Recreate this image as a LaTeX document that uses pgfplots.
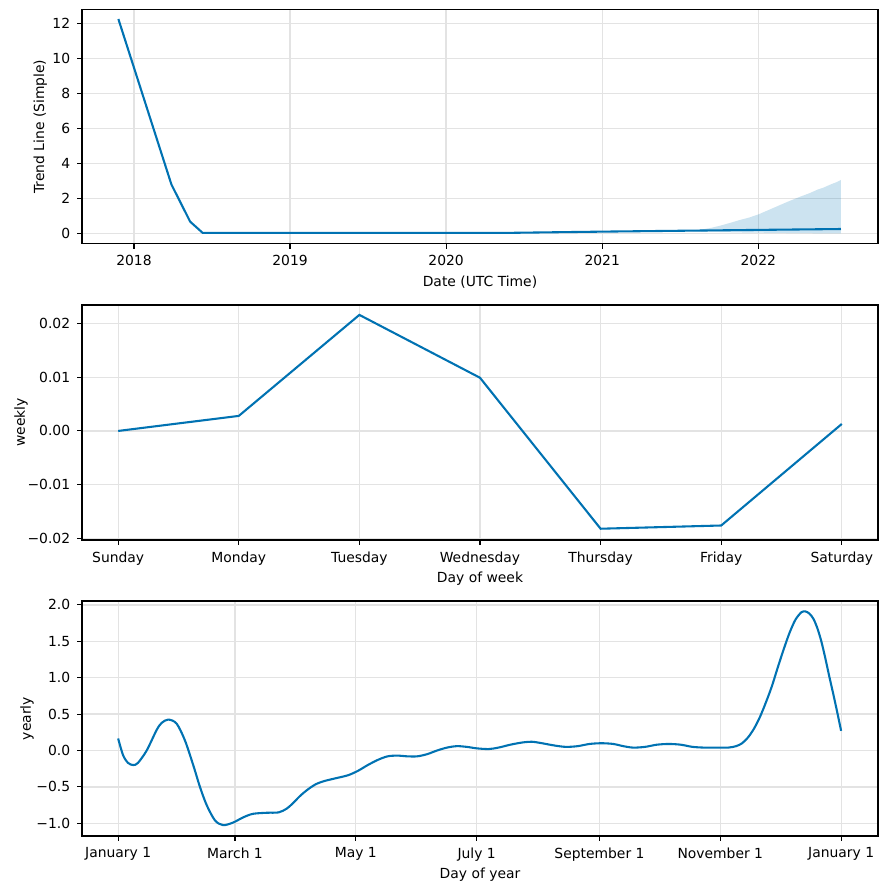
\documentclass[border=0pt]{standalone}
\usepackage{fontspec}
\setmainfont{DejaVu Sans}
\usepackage{pgfplots}
\pgfplotsset{compat=1.18}
\definecolor{pblue}{HTML}{0072B2}
\definecolor{gridc}{HTML}{E3E3E3}
\pgfplotsset{
  prophet/.style={
    scale only axis,
    width=573.1pt,
    tick align=outside,
    tick pos=left,
    major tick length=3.5pt,
    axis line style={line width=0.8pt,black},
    every tick/.style={line width=0.8pt,black},
    grid=major,
    major grid style={line width=0.9pt,gridc},
    scaled ticks=false,
    /pgf/number format/assume math mode=true,
    tick label style={font=\fontsize{10}{12}\selectfont},
    label style={font=\fontsize{10}{12}\selectfont},
    xticklabel style={yshift=-1.5pt},
    yticklabel style={xshift=-1.5pt},
    ylabel shift=-5pt,
    anchor=north west,
  }
}
\begin{document}
\begin{tikzpicture}[x=1pt,y=1pt]
\path[use as bounding box] (0,0) rectangle (637.92pt,-640.08pt);
% Panel 1: trend
\begin{axis}[prophet,
  at={(59.04pt,-6.98pt)},
  height=168.5pt,
  xmin=2017.667, xmax=2022.767,
  ymin=-0.59, ymax=12.77,
  xtick={2018,2019,2020,2021,2022},
  xticklabels={2018,2019,2020,2021,2022},
  ytick={0,2,4,6,8,10,12},
  yticklabels={0,2,4,6,8,10,12},
  xlabel={Date (UTC Time)},
  ylabel={Trend Line (Simple)},
  ylabel shift=-3pt,
]
\addplot[fill=pblue, fill opacity=0.2, draw=none] coordinates {
(2021.50,0.15) (2021.55,0.16) (2021.63,0.21) (2021.70,0.32) (2021.76,0.45) (2021.82,0.60)
(2021.88,0.76) (2021.94,0.90) (2022.00,1.08) (2022.07,1.35) (2022.14,1.62)
(2022.20,1.85) (2022.27,2.10) (2022.33,2.30) (2022.38,2.50) (2022.42,2.62)
(2022.46,2.78) (2022.50,2.92) (2022.53,3.05)
(2022.53,0.00) (2022.30,0.01) (2022.10,0.03) (2021.90,0.05) (2021.70,0.09)
(2021.55,0.13) (2021.50,0.14)} -- cycle;
\addplot[pblue, line width=1.5pt] coordinates {
(2017.90,12.24) (2018.24,2.79) (2018.36,0.67) (2018.44,0.03) (2020.40,0.03)
(2021.00,0.10) (2021.60,0.16) (2022.53,0.25)};
\end{axis}
% Panel 2: weekly
\begin{axis}[prophet,
  at={(59.04pt,-219.6pt)},
  height=169.2pt,
  xmin=-0.3, xmax=6.3,
  ymin=-0.0203, ymax=0.02344,
  xtick={0,1,2,3,4,5,6},
  xticklabels={Sunday,Monday,Tuesday,Wednesday,Thursday,Friday,Saturday},
  ytick={-0.02,-0.01,0,0.01,0.02},
  yticklabels={−0.02,−0.01,0.00,0.01,0.02},
  xlabel={Day of week},
  ylabel={weekly},
  xlabel shift=-2pt,
  ylabel shift=-7pt,
]
\addplot[pblue, line width=1.5pt] coordinates {
(0,0.0000) (1,0.0028) (2,0.0216) (3,0.0099) (4,-0.0182) (5,-0.0176) (6,0.0013)};
\end{axis}
% Panel 3: yearly
\begin{axis}[prophet,
  at={(59.04pt,-432.7pt)},
  height=169.2pt,
  xmin=-18.25, xmax=383.6,
  ymin=-1.174, ymax=2.054,
  xtick={0,59,120,181,243,304,365},
  xticklabels={January 1,March 1,May 1,July 1,September 1,November 1,January 1},
  ytick={-1,-0.5,0,0.5,1,1.5,2},
  yticklabels={−1.0,−0.5,0.0,0.5,1.0,1.5,2.0},
  xlabel={Day of year},
  ylabel={yearly},
  xlabel shift=-2pt,
  ylabel shift=-5pt,
]
\addplot[pblue, line width=1.5pt, smooth, tension=0.5] coordinates {
(0,0.165) (2.5,-0.065) (5,-0.17) (7.6,-0.20) (10,-0.17) (14.4,0.0) (19.4,0.28)
(22,0.38) (25.3,0.425) (29.5,0.37) (33.7,0.14) (37.9,-0.20) (41.3,-0.50)
(44.7,-0.75) (48.9,-0.96) (53,-1.025) (58,-0.99) (63,-0.92) (68,-0.87)
(75,-0.855) (81,-0.85) (85,-0.80) (88,-0.73) (92,-0.62) (96,-0.53) (100,-0.46) (104,-0.42) (110,-0.38)
(116,-0.34) (121,-0.28) (126,-0.20) (131,-0.13) (136,-0.08) (141,-0.07) (146,-0.08)
(151,-0.08) (156,-0.05) (161,0.00) (166,0.04) (171,0.06) (176,0.05) (181,0.03)
(187,0.02) (192,0.04) (198,0.08) (204,0.11) (209,0.12) (214,0.10) (220,0.07)
(226,0.05) (232,0.06) (238,0.09) (244,0.10) (250,0.09) (255,0.06) (260,0.04)
(266,0.05) (272,0.08) (278,0.09) (284,0.08) (290,0.05) (296,0.04) (302,0.04)
(308,0.04) (312,0.06) (315,0.10) (318,0.18) (321,0.30) (324,0.46) (327,0.66)
(330,0.88) (333,1.14) (336,1.39) (339,1.62) (342,1.80) (345,1.90) (347,1.91)
(349,1.88) (351,1.81) (353,1.68) (355,1.50) (357,1.27) (359,1.02) (361,0.78)
(363,0.53) (365,0.27)};
\end{axis}
\end{tikzpicture}
\end{document}
